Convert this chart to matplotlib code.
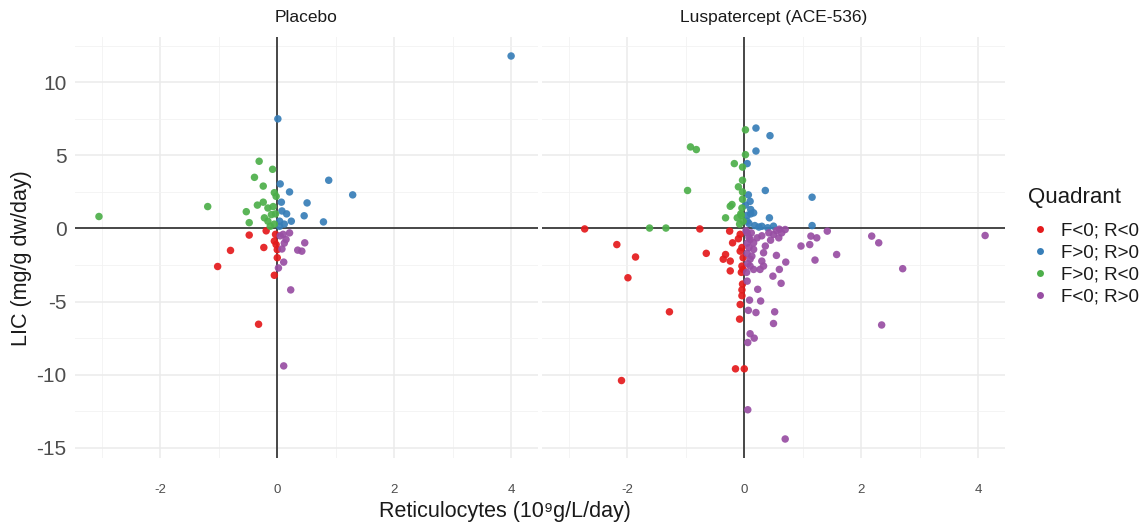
import matplotlib
matplotlib.use("Agg")
import matplotlib.pyplot as plt
from matplotlib.lines import Line2D
import numpy as np

# ---------------- data ----------------
panels = ["Placebo", "Luspatercept (ACE-536)"]
quadrants = ["F<0; R<0", "F>0; R>0", "F>0; R<0", "F<0; R>0"]
quad_colors = ["#E41A1C", "#377EB8", "#4DAF4A", "#984EA3"]

# Placebo
pla_red_x = [-0.48, -0.19, -0.80, -0.23, -1.02, 0.00, 0.00, -0.05, -0.05, -0.32, -0.03, -0.02]
pla_red_y = [-0.45, -0.16, -1.50, -1.30, -2.60, -1.45, -2.00, -3.20, -0.86, -6.55, -0.40, -1.10]
pla_blue_x = [4.00, 0.01, 0.88, 0.05, 0.21, 1.29, 0.51, 0.07, 0.16, 0.46, 0.24, 0.79, 0.04, 0.04, 0.08, 0.12]
pla_blue_y = [11.8, 7.50, 3.30, 3.05, 2.50, 2.30, 1.75, 1.80, 1.00, 0.87, 0.50, 0.45, 0.50, 0.15, 1.20, 0.30]
pla_green_x = [-3.05, -1.19, -0.31, -0.08, -0.39, -0.24, -0.05, -0.02, -0.24, -0.34,
               -0.16, -0.07, -0.53, -0.22, -0.10, -0.48, -0.16, -0.05, -0.12, -0.03]
pla_green_y = [0.82, 1.50, 4.60, 4.05, 3.50, 2.90, 2.45, 2.20, 1.80, 1.60,
               1.40, 1.50, 1.15, 0.73, 0.95, 0.40, 0.50, 0.30, 0.15, 1.00]
pla_purple_x = [0.21, 0.15, 0.12, 0.47, 0.35, 0.42, 0.08, 0.11, 0.02, 0.23, 0.11, 0.05, 0.10]
pla_purple_y = [-0.30, -0.75, -1.00, -0.98, -1.48, -1.55, -1.40, -2.30, -2.70, -4.20, -9.40, -0.50, -0.40]

# Luspatercept
lus_red_x = [-2.73, -0.76, -2.18, -1.86, -1.99, -1.28, -2.10, -0.65, -0.32, -0.36, -0.24, -0.24,
             -0.20, -0.25, -0.07, -0.04, -0.07, -0.04, -0.02, -0.03, -0.04, -0.04, -0.07, -0.08,
             -0.15, 0.00, -0.10, -0.02, -0.05]
lus_red_y = [-0.03, -0.03, -1.10, -1.95, -3.37, -5.70, -10.4, -1.70, -1.78, -2.10, -2.23, -2.90,
             -0.98, -0.18, -0.40, -1.30, -1.55, -2.57, -2.80, -3.80, -4.20, -4.60, -5.20, -6.20,
             -9.60, -9.60, -0.70, -2.00, -3.00]
lus_blue_x = [0.20, 0.44, 0.20, 0.05, 0.36, 1.16, 0.07, 0.10, 0.11, 0.11, 0.43, 1.16, 0.50, 0.18,
              0.30, 0.16, 0.05, 0.08, 0.25, 0.40, 0.02, 0.05]
lus_blue_y = [6.87, 6.35, 5.30, 4.44, 2.60, 2.14, 2.30, 1.86, 1.30, 1.00, 0.73, 0.20, 0.16, 0.20,
              0.15, 1.07, 0.50, 0.35, 0.10, 0.05, 1.60, 0.90]
lus_green_x = [0.02, -0.92, -0.82, 0.02, -0.17, -0.03, -0.03, -0.10, -0.97, -0.03, -0.24, -0.21,
               -0.04, -0.32, -0.12, -1.62, -1.34, -0.05, -0.02, -0.08, -0.03, -0.06]
lus_green_y = [6.75, 5.58, 5.40, 5.05, 4.44, 4.20, 3.30, 2.85, 2.60, 2.00, 1.52, 1.64,
               1.40, 0.73, 0.73, 0.03, 0.03, 0.90, 0.50, 0.30, 2.50, 1.00]
lus_purple_x = [0.06, 0.70, 0.06, 0.10, 0.17, 0.50, 0.52, 0.20, 0.07, 0.28, 0.09, 0.23, 0.05,
                0.63, 0.49, 0.60, 0.71, 0.55, 1.21, 0.97, 1.12, 1.24, 1.14, 1.42, 1.58, 4.12,
                2.18, 2.30, 2.71, 2.35, 0.70, 0.64, 0.59, 0.50, 0.42, 0.36, 0.33, 0.30, 0.33,
                0.27, 0.16, 0.10, 0.13, 0.16, 0.16, 0.10, 0.22, 0.05, 0.08, 0.05, 0.08, 0.05,
                0.10, 0.06, 0.04, 0.12, 0.30, 0.60, 0.55, 0.45, 0.03]
lus_purple_y = [-12.4, -14.4, -7.80, -7.20, -7.50, -6.50, -5.70, -5.75, -5.60, -4.96, -4.90, -4.16, -3.60,
                -3.75, -3.26, -2.80, -2.30, -1.84, -2.16, -1.20, -1.10, -0.64, -0.52, -0.18, -1.78, -0.48,
                -0.52, -0.98, -2.75, -6.60, -0.07, -0.30, -0.64, -0.41, -0.30, -1.20, -1.66, -2.23, -2.57,
                -2.80, -2.80, -2.57, -1.89, -1.43, -0.98, -0.75, -0.64, -0.30, -0.60, -1.00, -1.30, -1.70,
                -2.10, -2.40, -3.00, -0.30, -0.50, -0.05, -0.15, -0.80, -0.15]

x_ticks = [-2, 0, 2, 4]
y_ticks = [-15, -10, -5, 0, 5, 10]
x_minor = [-3, -1, 1, 3]
y_minor = [-12.5, -7.5, -2.5, 2.5, 7.5, 12.5]

panel_data = [
    [(pla_red_x, pla_red_y), (pla_blue_x, pla_blue_y), (pla_green_x, pla_green_y), (pla_purple_x, pla_purple_y)],
    [(lus_red_x, lus_red_y), (lus_blue_x, lus_blue_y), (lus_green_x, lus_green_y), (lus_purple_x, lus_purple_y)],
]

# ---------------- figure ----------------
W, H = 1143, 527
fig = plt.figure(figsize=(W / 100, H / 100), dpi=100)
fig.patch.set_facecolor("white")

sans = ["Liberation Sans", "DejaVu Sans"]

panel_px = [(75, 538), (542, 1005)]
top_px, bot_px = 37, 458
xlim = (-3.46, 4.46)
ylim = (-15.7, 13.1)

for i, (l, r) in enumerate(panel_px):
    ax = fig.add_axes([l / W, 1 - bot_px / H, (r - l) / W, (bot_px - top_px) / H])
    ax.set_xlim(*xlim)
    ax.set_ylim(*ylim)
    for s in ax.spines.values():
        s.set_visible(False)
    ax.set_xticks(x_ticks)
    ax.set_yticks(y_ticks)
    ax.set_xticks(x_minor, minor=True)
    ax.set_yticks(y_minor, minor=True)
    ax.grid(True, which="major", color="#EBEBEB", lw=1.1)
    ax.grid(True, which="minor", color="#F2F2F2", lw=0.6)
    ax.set_axisbelow(True)
    ax.tick_params(which="both", length=0)
    ax.set_xticklabels([str(t) for t in x_ticks], fontsize=9.5, color="#4D4D4D", family=sans)
    ax.tick_params(axis="x", pad=19)
    if i == 0:
        ax.set_yticklabels([str(t) for t in y_ticks], fontsize=15, color="#4D4D4D", family=sans)
        ax.tick_params(axis="y", pad=6)
    else:
        ax.set_yticklabels([])
    ax.axhline(0, color="#3A3A3A", lw=1.3, zorder=1.5)
    ax.axvline(0, color="#3A3A3A", lw=1.3, zorder=1.5)
    for (xs, ys), c in zip(panel_data[i], quad_colors):
        ax.scatter(xs, ys, s=29, color=c, alpha=0.92, edgecolors="none", zorder=3)
    ax.set_title(panels[i], fontsize=12.5, color="#1A1A1A", family=sans, pad=11)

fig.text(505 / W, 1 - 511 / H, "Reticulocytes (10\u2079g/L/day)", ha="center", va="center",
         fontsize=15.5, color="#1A1A1A", family=sans)
fig.text(22 / W, 1 - 258 / H, "LIC (mg/g dw/day)", ha="center", va="center", rotation=90,
         fontsize=15.5, color="#1A1A1A", family=sans)

# legend
fig.text(1028 / W, 1 - 198 / H, "Quadrant", ha="left", va="center",
         fontsize=16, color="#1A1A1A", family=sans)
handles = [Line2D([], [], marker="o", ls="none", color=c, markersize=5, markeredgewidth=0)
           for c in quad_colors]
leg = fig.legend(handles, quadrants, loc="upper left",
                 bbox_to_anchor=(1029 / W, 1 - 222 / H), frameon=False,
                 prop={"family": sans, "size": 13.5},
                 handletextpad=0.5, labelspacing=0.27, borderpad=0, handlelength=1.2,
                 borderaxespad=0)
for t in leg.get_texts():
    t.set_color("#1A1A1A")

fig.savefig("out.png", dpi=100, facecolor="white")
